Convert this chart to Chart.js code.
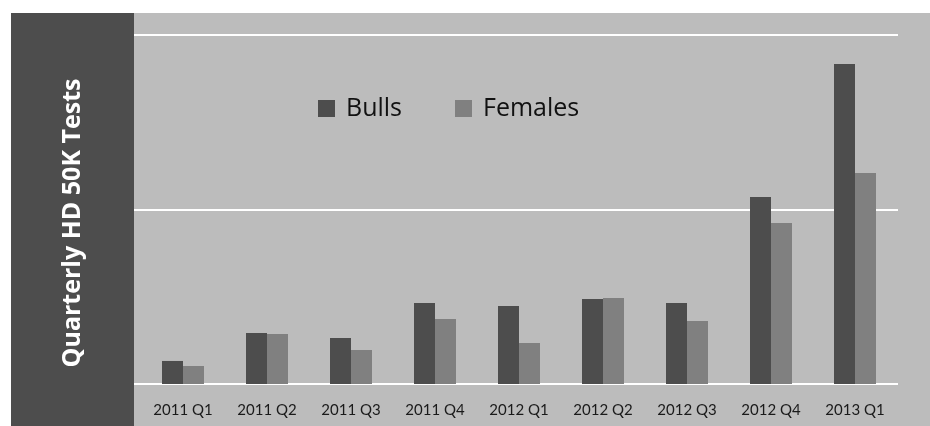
<!DOCTYPE html>
<html>
<head>
<meta charset="utf-8">
<script src="https://cdn.jsdelivr.net/npm/chart.js@4/dist/chart.umd.min.js"></script>
<style>
  html, body { margin: 0; padding: 0; background: #fff; }
  #wrap { width: 930px; height: 426px; position: relative; }
</style>
</head>
<body>
<div id="wrap"><canvas id="chart"></canvas></div>
<script>
const quarters = ["2011 Q1", "2011 Q2", "2011 Q3", "2011 Q4", "2012 Q1", "2012 Q2", "2012 Q3", "2012 Q4", "2013 Q1"];
const bulls = [132, 292, 264, 464, 447, 487, 464, 1072, 1834];
const females = [103, 287, 195, 372, 235, 493, 361, 923, 1209];
const yTicks = [0, 1000, 2000];
const axisTitle = "Quarterly HD 50K Tests";

// background panels, gridlines behind the bars
const backdrop = {
    id: "backdrop",
    beforeDraw(chart) {
        const ctx = chart.ctx;
        ctx.save();
        ctx.fillStyle = "#ffffff";
        ctx.fillRect(0, 0, chart.width, chart.height);
        ctx.fillStyle = "#bcbcbc";
        ctx.fillRect(134, 13, chart.width - 134, chart.height - 13);
        ctx.fillStyle = "#4d4d4d";
        ctx.fillRect(11, 13, 123, chart.height - 13);

        // rotated title
        ctx.translate(73, 223);
        ctx.rotate(-Math.PI / 2);
        ctx.fillStyle = "#ffffff";
        ctx.font = "bold 25px 'Open Sans'";
        ctx.textAlign = "center";
        ctx.textBaseline = "middle";
        ctx.fillText(axisTitle, 0, 0);
        ctx.restore();
    },
    beforeDatasetsDraw(chart) {
        const ctx = chart.ctx;
        const y = chart.scales.y;
        ctx.save();
        ctx.strokeStyle = "#ffffff";
        ctx.lineWidth = 2;
        yTicks.forEach((v) => {
            const py = Math.round(y.getPixelForValue(v));
            ctx.beginPath();
            ctx.moveTo(134, py);
            ctx.lineTo(898, py);
            ctx.stroke();
        });
        ctx.restore();
    },
    afterDatasetsDraw(chart) {
        // legend drawn inside the plot
        const ctx = chart.ctx;
        const spots = [318, 455];
        ctx.save();
        ctx.font = "25px 'Open Sans'";
        ctx.textBaseline = "middle";
        chart.data.datasets.forEach((ds, i) => {
            ctx.fillStyle = ds.backgroundColor;
            ctx.fillRect(spots[i], 100, 17, 17);
            ctx.fillStyle = "#111111";
            ctx.fillText(ds.label, spots[i] + 28, 109);
        });
        ctx.restore();
    }
};

new Chart(document.getElementById("chart"), {
    type: "bar",
    data: {
        labels: quarters,
        datasets: [
            { label: "Bulls", data: bulls, backgroundColor: "#4d4d4d" },
            { label: "Females", data: females, backgroundColor: "#808080" }
        ]
    },
    options: {
        responsive: true,
        maintainAspectRatio: false,
        animation: false,
        layout: { padding: { left: 141, right: 33, top: 35, bottom: -10 } },
        datasets: { bar: { categoryPercentage: 0.5, barPercentage: 1.0 } },
        plugins: {
            legend: { display: false },
            tooltip: { enabled: false }
        },
        scales: {
            x: {
                grid: { display: false, drawTicks: false },
                border: { display: false },
                ticks: {
                    color: "#1a1a1a",
                    padding: 17,
                    font: { family: "Lato", size: 15 }
                }
            },
            y: {
                display: false,
                min: 0,
                max: 2000,
                ticks: { stepSize: 1000 }
            }
        }
    },
    plugins: [backdrop]
});
</script>
</body>
</html>
